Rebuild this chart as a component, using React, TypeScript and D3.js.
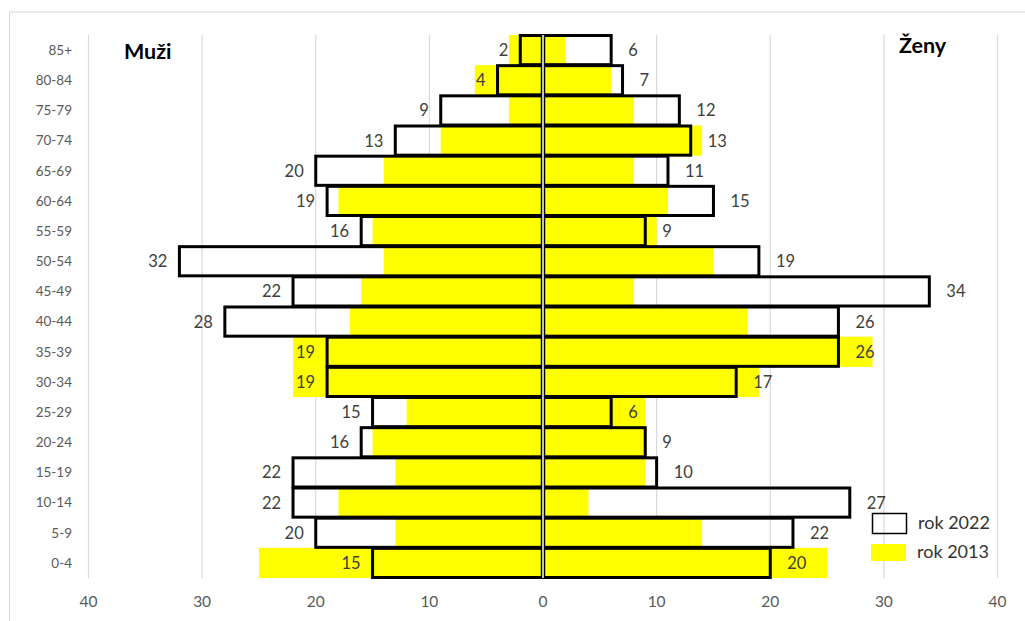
import React from "react";
import * as d3 from "d3";

const categories = ["85+","80-84","75-79","70-74","65-69","60-64","55-59","50-54","45-49","40-44","35-39","30-34","25-29","20-24","15-19","10-14","5-9","0-4"];
const male2022 = [2,4,9,13,20,19,16,32,22,28,19,19,15,16,22,22,20,15];
const female2022 = [6,7,12,13,11,15,9,19,34,26,26,17,6,9,10,27,22,20];
const male2013 = [3,6,3,9,14,18,15,14,16,17,22,22,12,15,13,18,13,25];
const female2013 = [2,6,8,14,8,11,10,15,8,18,29,19,9,9,9,4,14,25];
const xTicks = [-40,-30,-20,-10,0,10,20,30,40];
const seriesNames = ["rok 2022","rok 2013"];

const W = 1025, H = 621;
const FONT = "Lato, 'Open Sans', sans-serif";

export default function App() {
  const x = d3.scaleLinear().domain([-40, 40]).range([88.5, 997.5]);
  const y = d3.scaleBand<string>().domain(categories).range([35, 578]).padding(0);
  const bw = y.bandwidth();
  const x0 = x(0);

  return (
    <div style={{ position: "absolute", left: 0, top: 0 }}>
      <svg width={W} height={H} style={{ display: "block", fontFamily: FONT }}>
        <rect x={0} y={0} width={W} height={H} fill="#fff" />
        {/* frame */}
        <line x1={9.5} y1={12} x2={W} y2={12} stroke="#d9d9d9" strokeWidth={1} />
        <line x1={9.5} y1={12} x2={9.5} y2={H} stroke="#d9d9d9" strokeWidth={1} />
        {/* gridlines */}
        {xTicks.filter(t => t !== 0).map(t => (
          <line key={"g" + t} x1={x(t)} x2={x(t)} y1={35} y2={578} stroke="#d9d9d9" strokeWidth={1.2} />
        ))}
        {/* 2013 yellow bars */}
        {categories.map((c, i) => (
          <g key={"y" + c}>
            <rect x={x(-male2013[i])} y={y(c)} width={x0 - x(-male2013[i])} height={bw} fill="#ffff00" />
            <rect x={x0} y={y(c)} width={x(female2013[i]) - x0} height={bw} fill="#ffff00" />
          </g>
        ))}
        {/* 2022 outlined bars */}
        {categories.map((c, i) => (
          <g key={"b" + c}>
            <rect x={x(-male2022[i])} y={y(c)! + 0.5} width={x0 - x(-male2022[i])} height={bw - 1} fill="none" stroke="#000" strokeWidth={3} />
            <rect x={x0} y={y(c)! + 0.5} width={x(female2022[i]) - x0} height={bw - 1} fill="none" stroke="#000" strokeWidth={3} />
          </g>
        ))}
        {/* center axis */}
        <line x1={x0} x2={x0} y1={35} y2={578} stroke="#000" strokeWidth={4.5} />
        <line x1={x0} x2={x0} y1={35} y2={578} stroke="#bfbfbf" strokeWidth={2} />
        {/* category labels */}
        {categories.map(c => (
          <text key={"c" + c} x={72} y={y(c)! + bw / 2 + 4.8} textAnchor="end" fontSize={13.5} fill="#595959">{c}</text>
        ))}
        {/* data labels */}
        {categories.map((c, i) => (
          <g key={"l" + c}>
            <text x={x(-male2022[i]) - 12} y={y(c)! + bw / 2 + 6} textAnchor="end" fontSize={16.5} fill="#404040">{male2022[i]}</text>
            <text x={x(female2022[i]) + 17} y={y(c)! + bw / 2 + 6} textAnchor="start" fontSize={16.5} fill="#404040">{female2022[i]}</text>
          </g>
        ))}
        {/* x tick labels */}
        {xTicks.map(t => (
          <text key={"t" + t} x={x(t)} y={607} textAnchor="middle" fontSize={15.5} fill="#595959">{Math.abs(t)}</text>
        ))}
        {/* titles */}
        <text x={124} y={59} fontSize={21.5} fontWeight="bold" fill="#000">Muži</text>
        <text x={899} y={53} fontSize={21.5} fontWeight="bold" fill="#000">Ženy</text>
        {/* legend */}
        <rect x={872.5} y={513.5} width={34} height={20} fill="none" stroke="#000" strokeWidth={1.5} />
        <text x={918} y={528.5} fontSize={18} fill="#333">{seriesNames[0]}</text>
        <rect x={871} y={544} width={35} height={17} fill="#ffff00" />
        <text x={917} y={558} fontSize={18} fill="#333">{seriesNames[1]}</text>
      </svg>
    </div>
  );
}
